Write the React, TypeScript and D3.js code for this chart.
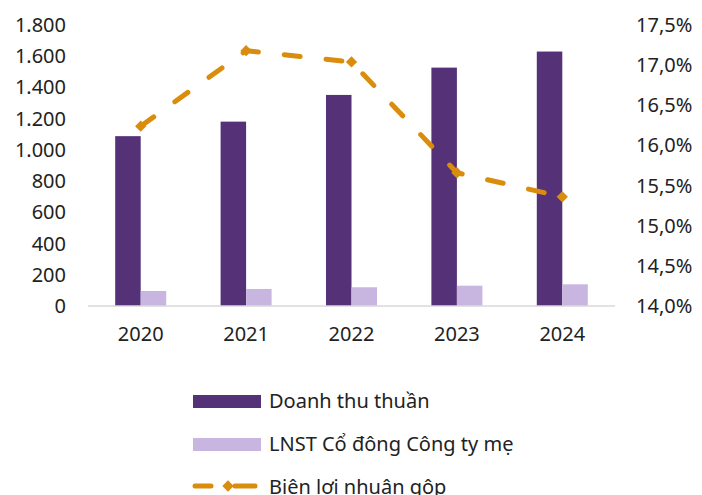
import { line, scaleBand, scaleLinear, symbol, symbolSquare } from 'd3';

// Data.
const years = ['2020', '2021', '2022', '2023', '2024'];
const revenue = [1088, 1181, 1352, 1527, 1630];
const netProfit = [96, 109, 120, 130, 139];
const grossMargin = [0.1624, 0.1718, 0.1704, 0.1566, 0.1536];
const leftTicks = [0, 200, 400, 600, 800, 1000, 1200, 1400, 1600, 1800];
const rightTicks = [0.14, 0.145, 0.15, 0.155, 0.16, 0.165, 0.17, 0.175];
const legendLabels = ['Doanh thu thuần', 'LNST Cổ đông Công ty mẹ', 'Biên lợi nhuận gộp'];

const WIDTH = 702;
const HEIGHT = 495;
const DARK = '#553278';
const LIGHT = '#C9B6E0';
const GOLD = '#DA8D0C';
const FONT = '"Noto Sans", Lato, sans-serif';

const fmtLeft = (v: number) => v.toLocaleString('de-DE');
const fmtRight = (v: number) => (v * 100).toFixed(1).replace('.', ',') + '%';

const App = () => {
  // Get the axis scales.
  const xScale = scaleBand<string>()
    .domain(years)
    .range([88, 615])
    .paddingInner(0.516)
    .paddingOuter(0.258);
  const subScale = scaleBand<string>()
    .domain(['rev', 'np'])
    .range([0, xScale.bandwidth()]);
  const yLeft = scaleLinear().domain([0, 1800]).range([306, 25]);
  const yRight = scaleLinear().domain([0.14, 0.175]).range([306, 25]);

  const cx = (y: string) => (xScale(y) ?? 0) + xScale.bandwidth() / 2;

  const marginLine = line<number>()
    .x((_, i) => cx(years[i]))
    .y((d) => yRight(d));

  const diamond = symbol().type(symbolSquare).size(64)() ?? '';

  return (
    <svg
      width={WIDTH}
      height={HEIGHT}
      style={{ position: 'absolute', left: 0, top: 0, background: '#fff' }}
      fontFamily={FONT}
    >
      {/* left axis labels */}
      {leftTicks.map((t) => (
        <text key={t} x={66} y={yLeft(t)} dy="0.35em" textAnchor="end" fontSize={20} fill="#222">
          {fmtLeft(t)}
        </text>
      ))}
      {/* right axis labels */}
      {rightTicks.map((t) => (
        <text key={t} x={636} y={yRight(t)} dy="0.35em" textAnchor="start" fontSize={20} fill="#222">
          {fmtRight(t)}
        </text>
      ))}

      {/* bars */}
      {years.map((y, i) => (
        <g key={y} transform={`translate(${xScale(y)},0)`}>
          <rect
            x={subScale('rev')}
            y={yLeft(revenue[i])}
            width={subScale.bandwidth()}
            height={yLeft(0) - yLeft(revenue[i])}
            fill={DARK}
          />
          <rect
            x={subScale('np')}
            y={yLeft(netProfit[i])}
            width={subScale.bandwidth()}
            height={yLeft(0) - yLeft(netProfit[i])}
            fill={LIGHT}
          />
        </g>
      ))}

      {/* baseline */}
      <line x1={88} x2={615} y1={yLeft(0)} y2={yLeft(0)} stroke="#D9D9D9" strokeWidth={1.5} />

      {/* year labels */}
      {years.map((y) => (
        <text key={y} x={cx(y)} y={334} dy="0.35em" textAnchor="middle" fontSize={20} fill="#222">
          {y}
        </text>
      ))}

      {/* gross margin line */}
      <path
        d={marginLine(grossMargin) ?? ''}
        fill="none"
        stroke={GOLD}
        strokeWidth={5}
        strokeDasharray="16 26"
        strokeLinecap="round"
      />
      {grossMargin.map((m, i) => (
        <path
          key={years[i]}
          d={diamond}
          transform={`translate(${cx(years[i])},${yRight(m)}) rotate(45)`}
          fill={GOLD}
        />
      ))}

      {/* legend */}
      <rect x={193} y={395} width={68} height={13} fill={DARK} />
      <text x={269} y={401} dy="0.35em" fontSize={20} fill="#222">
        {legendLabels[0]}
      </text>
      <rect x={193} y={438} width={68} height={13} fill={LIGHT} />
      <text x={269} y={444} dy="0.35em" fontSize={20} fill="#222">
        {legendLabels[1]}
      </text>
      <line x1={195} x2={211} y1={486} y2={486} stroke={GOLD} strokeWidth={5} strokeLinecap="round" />
      <line x1={235} x2={255} y1={486} y2={486} stroke={GOLD} strokeWidth={5} strokeLinecap="round" />
      <path d={diamond} transform="translate(228,486) rotate(45)" fill={GOLD} />
      <text x={269} y={487} dy="0.35em" fontSize={20} fill="#222">
        {legendLabels[2]}
      </text>
    </svg>
  );
};

export default App;
